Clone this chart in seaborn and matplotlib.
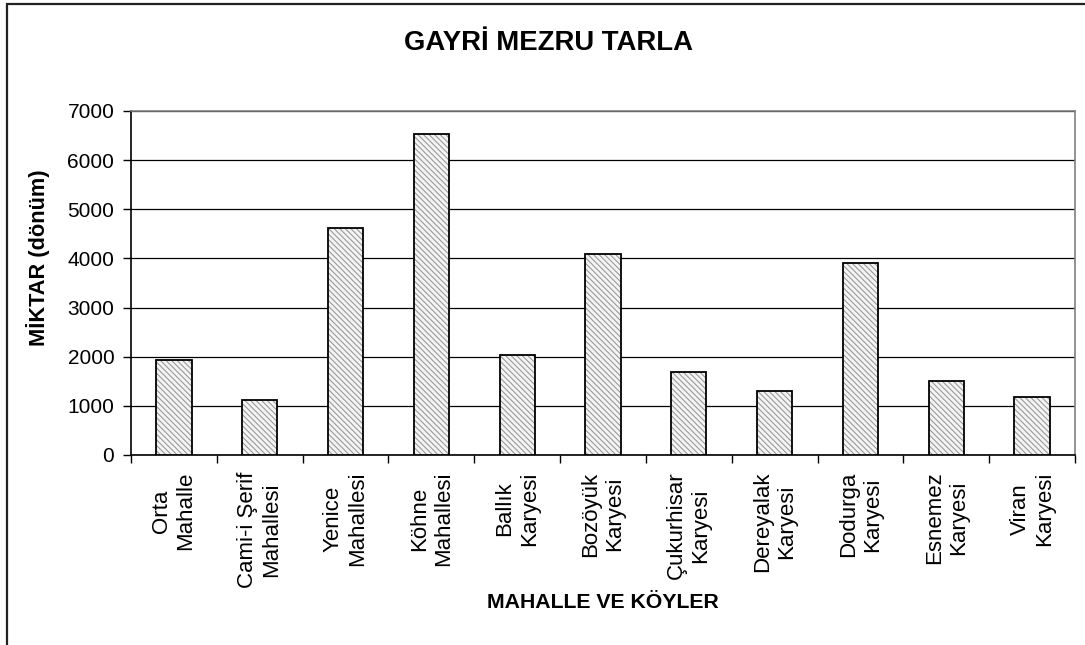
import matplotlib
matplotlib.use("Agg")
import matplotlib.pyplot as plt
import seaborn as sns
from matplotlib.patches import Rectangle
from matplotlib.ticker import FixedLocator

# data
places = ["Orta\nMahalle", "Cami-i Şerif\nMahallesi", "Yenice\nMahallesi", "Köhne\nMahallesi",
          "Ballık\nKaryesi", "Bozöyük\nKaryesi", "Çukurhisar\nKaryesi", "Dereyalak\nKaryesi",
          "Dodurga\nKaryesi", "Esnemez\nKaryesi", "Viran\nKaryesi"]
amounts = [1930, 1110, 4615, 6530, 2040, 4095, 1690, 1310, 3900, 1500, 1175]
y_ticks = [0, 1000, 2000, 3000, 4000, 5000, 6000, 7000]

sns.set_theme(style="white")
plt.rcParams['font.family'] = ['Liberation Sans', 'DejaVu Sans']
plt.rcParams['hatch.linewidth'] = 0.8
plt.rcParams['text.color'] = 'black'

fig = plt.figure(figsize=(10.85, 6.45), dpi=100)
ax = fig.add_axes([131 / 1085, 1 - 455 / 645, (1075 - 131) / 1085, (455 - 111) / 645])

# hatched fill (hatch takes the edge colour), then black outline on top
sns.barplot(x=places, y=amounts, ax=ax, color='#f4f4f4', width=0.41, edgecolor='#9a9a9a',
            hatch='\\\\\\\\\\\\', linewidth=0, saturation=1, zorder=3)
sns.barplot(x=places, y=amounts, ax=ax, fill=False, width=0.41,
            edgecolor='black', linewidth=1.3, saturation=1, zorder=4)

ax.set_ylim(0, 7000)
ax.set_xlim(-0.5, len(places) - 0.5)
ax.set_yticks(y_ticks)
ax.set_yticklabels([str(v) for v in y_ticks], fontsize=15)
ax.yaxis.grid(True, color='black', linewidth=0.9)
ax.set_axisbelow(True)

ax.set_xticks(range(len(places)))
ax.set_xticklabels(places, rotation=90, fontsize=16, ha='center', va='top',
                   multialignment='center', linespacing=1.2)
ax.xaxis.set_minor_locator(FixedLocator([i - 0.5 for i in range(len(places) + 1)]))
ax.tick_params(axis='x', which='major', length=0, pad=12, labelcolor='black')
ax.tick_params(axis='x', which='minor', length=6, width=1, color='black', direction='out', bottom=True)
ax.tick_params(axis='y', length=6, width=1, color='black', direction='out', left=True, pad=6,
               labelcolor='black')

for side in ['left', 'bottom']:
    ax.spines[side].set_color('black')
    ax.spines[side].set_linewidth(1.2)
for side in ['top', 'right']:
    ax.spines[side].set_color('#808080')
    ax.spines[side].set_linewidth(1.2)

ax.set_xlabel('')
ax.set_ylabel('')

fig.text(548 / 1085, 1 - 43 / 645, 'GAYRİ MEZRU TARLA', fontsize=19.8, fontweight='bold',
         ha='center', va='center')
fig.text(38 / 1085, 1 - 258 / 645, 'MİKTAR (dönüm)', fontsize=15.7, fontweight='bold',
         rotation=90, ha='center', va='center')
fig.text(603 / 1085, 1 - 603 / 645, 'MAHALLE VE KÖYLER', fontsize=15.3, fontweight='bold',
         ha='center', va='center')

# outer chart border
fig.patches.append(Rectangle((7 / 1085, -0.05), 1.1, 1 - 4 / 645 + 0.05, transform=fig.transFigure,
                             fill=False, edgecolor='#222222', linewidth=1.6, zorder=0))

fig.savefig('out.png', dpi=100)
